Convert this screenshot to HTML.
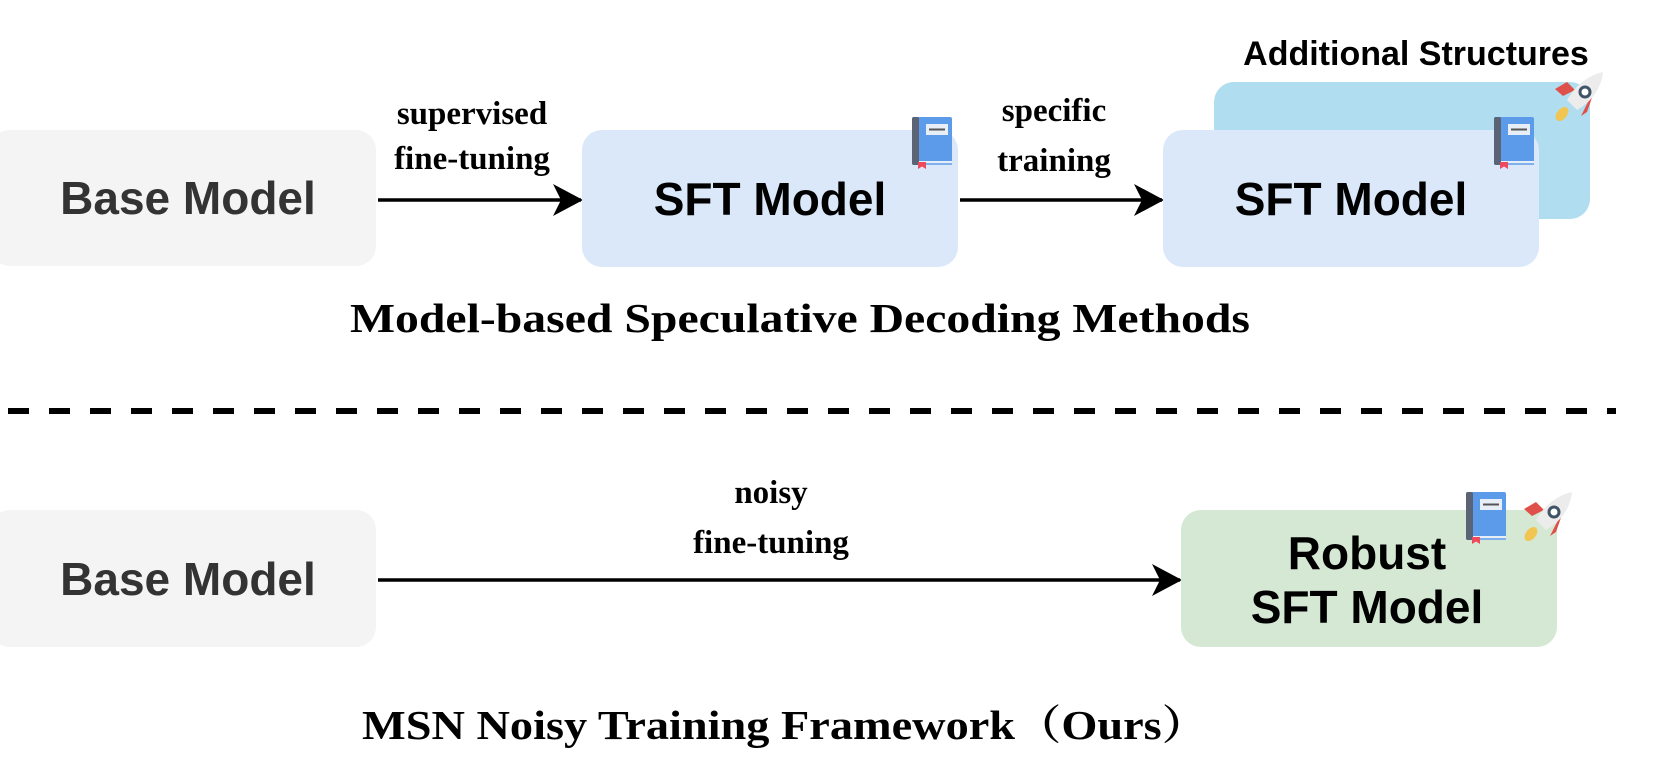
<!DOCTYPE html>
<html><head><meta charset="utf-8"><style>
html,body{margin:0;padding:0;background:#fff;}
svg{display:block;}
.c{font-family:"Liberation Sans","DejaVu Sans",sans-serif;font-weight:bold;}
.t{font-family:"Liberation Serif","Noto Serif CJK SC",serif;font-weight:bold;}
</style></head><body>
<svg width="1661" height="781" viewBox="0 0 1661 781" xmlns="http://www.w3.org/2000/svg">
<defs>
<symbol id="book" viewBox="0 0 40 52">
<rect x="0" y="0" width="40" height="48" rx="2" fill="#5b9bea"/>
<rect x="0" y="0" width="7" height="48" rx="2" fill="#5a6475"/>
<rect x="7" y="44" width="33" height="4" fill="#e8eef6"/>
<line x1="7" y1="47" x2="40" y2="47" stroke="#5b9bea" stroke-width="1.5"/>
<rect x="14" y="7" width="22" height="11" fill="#e8eef6"/>
<rect x="17" y="11.5" width="16" height="2" fill="#555"/>
<path d="M6 45 h8 v7 l-4 -2.5 l-4 2.5z" fill="#ee4a5e"/>
</symbol>
<symbol id="rocket" viewBox="0 0 52 52">
<path d="M2 17 L14 10 L22 18 L10 24z" fill="#e0504a"/>
<path d="M35 30 L42 17 L34 40 L28 44 Z" fill="#e0504a"/>
<ellipse cx="9" cy="42" rx="5" ry="8" transform="rotate(40 9 42)" fill="#f0c552"/>
<path d="M50 0 C40 2 24 10 14 28 L24 38 C42 28 49 12 50 0z" fill="#ececec"/>
<circle cx="32" cy="20" r="5" fill="#fff" stroke="#3f5466" stroke-width="3"/>
</symbol>
<marker id="ah" viewBox="0 0 30 32" refX="28" refY="16" markerWidth="30" markerHeight="32" markerUnits="userSpaceOnUse" orient="auto">
<path d="M0 0 L30 16 L0 32 L8 16z" fill="#000"/>
</marker>
</defs>

<rect x="-10" y="130" width="386" height="136" rx="20" fill="#f4f4f4"/>
<text x="188" y="214" class="c" font-size="46" fill="#333" text-anchor="middle">Base Model</text>

<line x1="378" y1="200" x2="581" y2="200" stroke="#000" stroke-width="3.5" marker-end="url(#ah)"/>
<text x="472" y="124" class="t" font-size="33" text-anchor="middle">supervised</text>
<text x="472" y="169" class="t" font-size="33" text-anchor="middle">fine-tuning</text>

<rect x="582" y="130" width="376" height="137" rx="20" fill="#dae8fa"/>
<text x="770" y="215" class="c" font-size="46" fill="#000" text-anchor="middle">SFT Model</text>
<use href="#book" x="912" y="117" width="40" height="52"/>

<line x1="960" y1="200" x2="1162" y2="200" stroke="#000" stroke-width="3.5" marker-end="url(#ah)"/>
<text x="1054" y="121" class="t" font-size="33" text-anchor="middle">specific</text>
<text x="1054" y="171" class="t" font-size="33" text-anchor="middle">training</text>

<rect x="1214" y="82" width="376" height="137" rx="20" fill="#b0ddef"/>
<text x="1416" y="65" class="c" font-size="34" fill="#000" text-anchor="middle">Additional Structures</text>
<use href="#rocket" x="1553" y="72" width="52" height="52"/>
<rect x="1163" y="130" width="376" height="137" rx="20" fill="#dae8fa"/>
<text x="1351" y="215" class="c" font-size="46" fill="#000" text-anchor="middle">SFT Model</text>
<use href="#book" x="1494" y="117" width="40" height="52"/>

<text x="800" y="332" class="t" font-size="41" text-anchor="middle" textLength="900" lengthAdjust="spacingAndGlyphs">Model-based Speculative Decoding Methods</text>

<line x1="8" y1="411" x2="1616" y2="411" stroke="#000" stroke-width="6" stroke-dasharray="21 20"/>

<rect x="-10" y="510" width="386" height="137" rx="20" fill="#f4f4f4"/>
<text x="188" y="595" class="c" font-size="46" fill="#333" text-anchor="middle">Base Model</text>

<line x1="378" y1="580" x2="1180" y2="580" stroke="#000" stroke-width="3.5" marker-end="url(#ah)"/>
<text x="771" y="503" class="t" font-size="33" text-anchor="middle">noisy</text>
<text x="771" y="553" class="t" font-size="33" text-anchor="middle">fine-tuning</text>

<rect x="1181" y="510" width="376" height="137" rx="20" fill="#d5e8d4"/>
<text x="1367" y="569" class="c" font-size="46" fill="#000" text-anchor="middle">Robust</text>
<text x="1367" y="623" class="c" font-size="46" fill="#000" text-anchor="middle">SFT Model</text>
<use href="#book" x="1466" y="492" width="40" height="52"/>
<use href="#rocket" x="1522" y="492" width="52" height="52"/>

<text x="785" y="739" class="t" font-size="41" text-anchor="middle" textLength="846" lengthAdjust="spacingAndGlyphs">MSN Noisy Training Framework（Ours）</text>
</svg>
</body></html>
